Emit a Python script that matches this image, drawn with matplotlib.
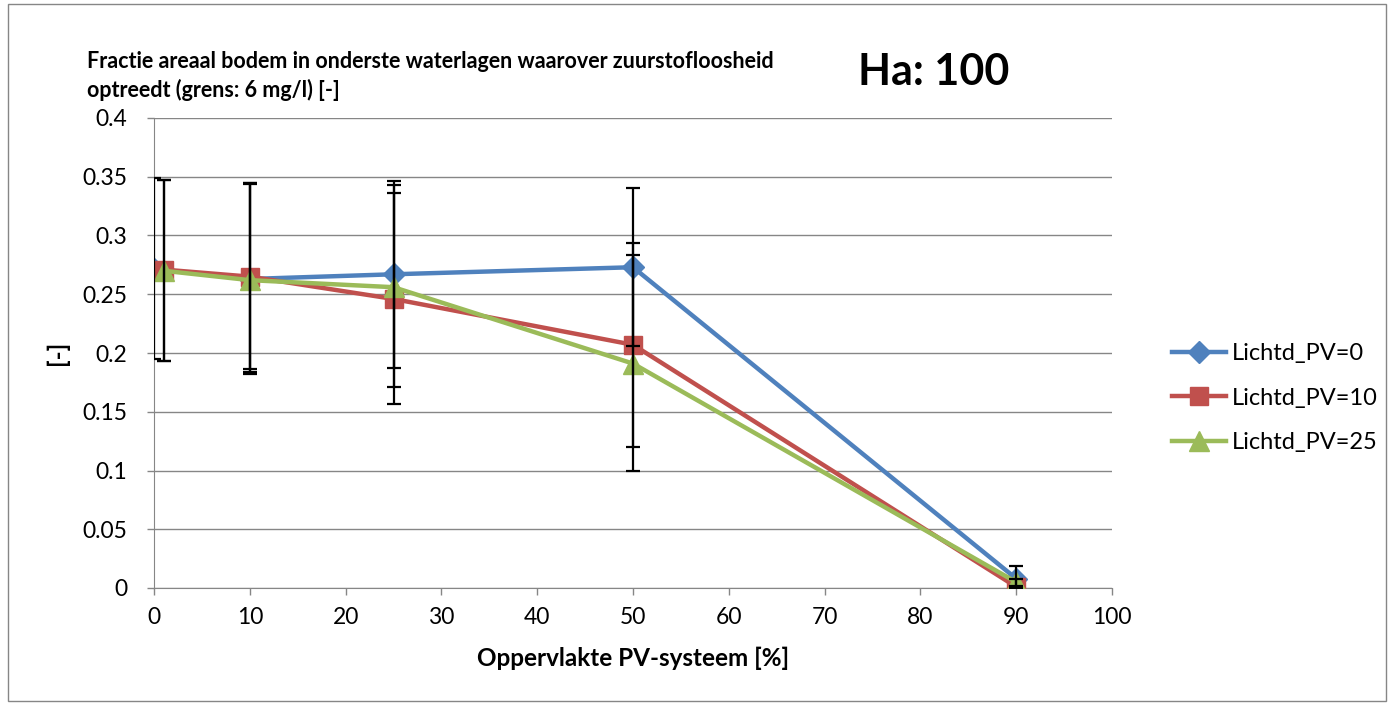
import numpy as np
import matplotlib.pyplot as plt
from matplotlib.patches import Rectangle

# data
x_pv0 = [0, 10, 25, 50, 90]
x_pv = [1, 10, 25, 50, 90]

pv0 = [0.2715, 0.263, 0.267, 0.273, 0.008]
pv0_lo = [0.195, 0.182, 0.187, 0.206, 0.0]
pv0_hi = [0.349, 0.345, 0.346, 0.340, 0.019]

pv10 = [0.271, 0.265, 0.246, 0.207, 0.001]
pv10_lo = [0.193, 0.184, 0.157, 0.120, 0.0]
pv10_hi = [0.347, 0.345, 0.336, 0.294, 0.002]

pv25 = [0.270, 0.262, 0.256, 0.191, 0.005]
pv25_lo = [0.193, 0.186, 0.171, 0.100, 0.0]
pv25_hi = [0.347, 0.344, 0.343, 0.283, 0.008]

labels = ['Lichtd_PV=0', 'Lichtd_PV=10', 'Lichtd_PV=25']
colors = ['#4F81BD', '#C0504D', '#9BBB59']
markers = ['D', 's', '^']
msizes = [11, 13, 14]

yticks = np.arange(0, 0.41, 0.05)
ytick_labels = ['0', '0.05', '0.1', '0.15', '0.2', '0.25', '0.3', '0.35', '0.4']
xticks = np.arange(0, 101, 10)

plt.rcParams['font.family'] = ['Lato', 'DejaVu Sans']

fig = plt.figure(figsize=(13.9, 7.05), dpi=100)
ax = fig.add_axes([154/1390, 117/705, (1112-154)/1390, 470/705])

series = [(x_pv0, pv0, pv0_lo, pv0_hi), (x_pv, pv10, pv10_lo, pv10_hi), (x_pv, pv25, pv25_lo, pv25_hi)]
for (xs, ys, lo, hi), lab, c, m, ms in zip(series, labels, colors, markers, msizes):
    ax.plot(xs, ys, color=c, lw=3.2, marker=m, ms=ms, label=lab, zorder=3)
for (xs, ys, lo, hi) in series:
    ys = np.array(ys)
    err = [ys - np.array(lo), np.array(hi) - ys]
    ax.errorbar(xs, ys, yerr=err, fmt='none', ecolor='black', elinewidth=1.6,
                capsize=5, capthick=1.6, zorder=4)

ax.set_xlim(0, 100)
ax.set_ylim(0, 0.4)
ax.set_xticks(xticks)
ax.set_yticks(yticks)
ax.set_yticklabels(ytick_labels)
ax.tick_params(labelsize=16.5, colors='black', length=5, width=1)
ax.tick_params(axis='both', color='#868686')
ax.tick_params(axis='x', pad=9)
ax.tick_params(axis='y', pad=14)
ax.grid(axis='y', color='#868686', lw=1)
ax.set_axisbelow(True)
for s in ['top', 'right']:
    ax.spines[s].set_visible(False)
for s in ['left', 'bottom']:
    ax.spines[s].set_color('#868686')

ax.set_xlabel('Oppervlakte PV-systeem [%]', fontsize=17.5, fontweight='bold', labelpad=13)
ax.set_ylabel('[-]', fontsize=17.5, fontweight='bold', labelpad=10)

fig.text(87/1390, 1 - 76/705, 'Fractie areaal bodem in onderste waterlagen waarover zuurstofloosheid\noptreedt (grens: 6 mg/l) [-]',
         fontsize=15.5, fontweight='bold', va='center', ha='left', linespacing=1.4)
fig.text(858/1390, 1 - 72/705, 'Ha: 100', fontsize=31, fontweight='bold', va='center', ha='left')

ax.legend(loc='center left', frameon=False, fontsize=17, handlelength=2.3,
          labelspacing=1.0, handletextpad=0.25, borderpad=0, borderaxespad=0)
ax.legend_.set_bbox_to_anchor((1172/1390, 1 - 398/705), transform=fig.transFigure)

fig.patches.append(Rectangle((8/1390, 4/705), 1378/1390, 697/705, transform=fig.transFigure,
                             fill=False, edgecolor='#868686', lw=1))

fig.savefig('out.png', dpi=100)
